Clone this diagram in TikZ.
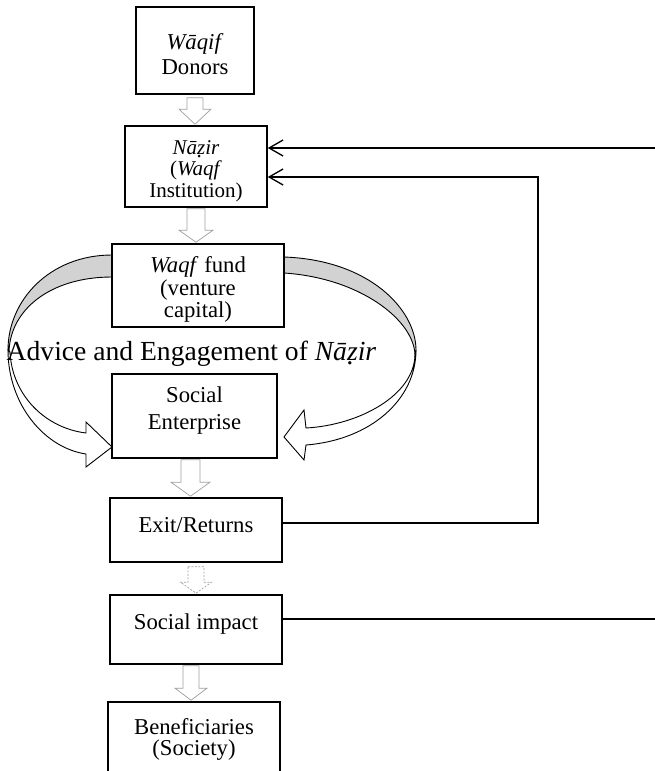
\documentclass[tikz,border=0pt]{standalone}
\usepackage{fontspec}
\setmainfont{Liberation Serif}
\usetikzlibrary{calc,arrows.meta}

\newcommand\zdot{\ooalign{z\cr\hidewidth\raisebox{-0.38ex}{.}\kern0.14em\hidewidth\cr}}

% block arrow: [style]{from}{to}{shaft half}{head half}{head length}{start gap}
\newcommand\BlkArr[7][blk]{%
  \draw[#1] let \p1=(#2), \p2=(#3) in
   (\x1-#4,\y1-#7) -- (\x1-#4,\y2+#6) -- (\x1-#5,\y2+#6) -- (\x1,\y2+1)
   -- (\x1+#5,\y2+#6) -- (\x1+#4,\y2+#6) -- (\x1+#4,\y1-#7) -- cycle;}

\tikzset{
  box/.style={draw=black, line width=1.6pt, inner sep=0pt},
  txt/.style={align=center, inner sep=0pt, font=\fontsize{22.7}{25}\selectfont},
  blk/.style={draw=gray!75, line width=0.7pt, fill=white},
  conn/.style={line width=1.3pt},
  tipb/.style={-{Straight Barb[length=14pt,width=16pt,line width=1.3pt]}},
  band/.style={draw=black, line width=0.9pt, fill=gray!35},
  curv/.style={draw=black, line width=0.9pt, fill=white},
}

\begin{document}
\begin{tikzpicture}[x=1pt,y=-1pt]
\useasboundingbox (0,0) rectangle (655,771);
\clip (0,0) rectangle (655,771);

% curved arrows (left)
\path[curv] (8,350) .. controls (8,405) and (45,448) .. (86,454)
  -- (86,467) -- (112,447) -- (86,422) -- (86,433)
  .. controls (45,428) and (12,395) .. (10,352) -- cycle;
\path[band] (112,255) .. controls (50,255) and (8,300) .. (8,350)
  -- (9,352) .. controls (10,310) and (50,277) .. (112,277) -- cycle;
% curved arrows (right)
\path[curv] (416,350) .. controls (416,400) and (370,440) .. (306,445)
  -- (304,460) -- (284,437) -- (304,410) -- (306,428)
  .. controls (360,425) and (414,395) .. (415,355) -- cycle;
\path[band] (284,257) .. controls (370,260) and (416,310) .. (416,350)
  -- (415,355) .. controls (414,320) and (360,278) .. (284,273) -- cycle;

% boxes
\node[box, minimum width=118pt, minimum height=87pt] (waqif) at (195,50.5) {};
\node[box, minimum width=142pt, minimum height=81pt] (nazir) at (196,166.5) {};
\node[box, minimum width=172pt, minimum height=83pt] (fund) at (198,285.5) {};
\node[box, minimum width=165pt, minimum height=84pt] (se) at (194.5,416) {};
\node[box, minimum width=172pt, minimum height=64pt] (exit) at (196,530) {};
\node[box, minimum width=172pt, minimum height=69pt] (social) at (196,629.5) {};
\node[box, minimum width=172pt, minimum height=88pt] (benef) at (194,746) {};

% texts
\node[txt] (waqifT) at (195,54) {\textit{Wāqif}\\Donors};
\node[txt, font=\fontsize{21}{21.5}\selectfont] (nazirT) at (196,171)
  {\textit{Nā{\zdot}ir}\\(\textit{Waqf}\\Institution)};
\node[txt, font=\fontsize{22.7}{22.5}\selectfont] (fundT) at (198,289.5)
  {\textit{Waqf} fund\\(venture\\capital)};
\node[txt, font=\fontsize{22.7}{27}\selectfont] (seT) at (194.5,410.5) {Social\\Enterprise};
\node[txt] (exitT) at (196,525) {Exit/Returns};
\node[txt] (socialT) at (196,624) {Social impact};
\node[txt, font=\fontsize{22.7}{21}\selectfont] (benefT) at (194,739) {Beneficiaries\\(Society)};
\node[font=\fontsize{27.6}{30}\selectfont, inner sep=0pt, anchor=base] (advice) at (191.5,360)
  {Advice and Engagement of \textit{Nā{\zdot}ir}};

% block arrows
\BlkArr{waqif.south}{nazir.north}{8}{16}{16}{3}
\BlkArr{nazir.south}{fund.north}{9}{17}{13}{1}
\BlkArr{[xshift=-4pt]se.south}{exit.north}{9.5}{19.5}{15}{1}
\BlkArr[blk,dash pattern=on 2pt off 1.5pt]{exit.south}{social.north}{8}{15.5}{12}{4}
\BlkArr{[xshift=-5pt]social.south}{benef.north}{8}{16}{13}{1}

% connectors
\coordinate (r1) at (655,148);
\coordinate (turn) at (538,177);
\coordinate (r2) at (655,619);
\draw[conn,tipb] (r1) -- (nazir.east |- r1);
\draw[conn,tipb] ([yshift=7pt]exit.east) -| (turn) -- (nazir.east |- turn);
\draw[conn] ([yshift=10.5pt]social.east) -- (r2);
\end{tikzpicture}
\end{document}
